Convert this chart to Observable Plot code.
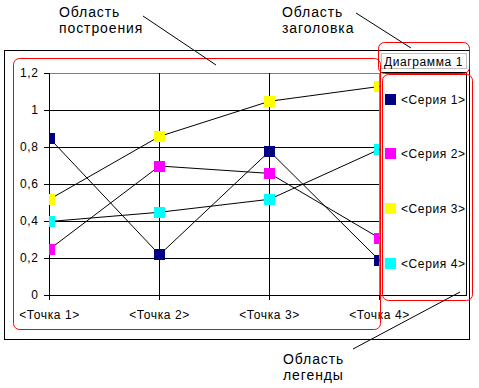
<!DOCTYPE html>
<html><head><meta charset="utf-8">
<script src="https://cdn.jsdelivr.net/npm/d3@7"></script>
<script src="https://cdn.jsdelivr.net/npm/@observablehq/plot@0.6"></script>
<style>
body{margin:0;background:#fff;}
#wrap{position:relative;width:479px;height:388px;background:#fff;font-family:"Liberation Sans",Arial,sans-serif;}
#wrap svg{position:absolute;left:0;top:0;}
</style></head><body><div id="wrap"></div>
<script>
const categories = ["<Точка 1>", "<Точка 2>", "<Точка 3>", "<Точка 4>"];
const seriesNames = ["<Серия 1>", "<Серия 2>", "<Серия 3>", "<Серия 4>"];
const seriesColors = ["#000080", "#ff00ff", "#ffff00", "#00ffff"];
const serie1 = [0.85, 0.22, 0.78, 0.19];
const serie2 = [0.25, 0.70, 0.66, 0.31];
const serie3 = [0.52, 0.86, 1.05, 1.13];
const serie4 = [0.40, 0.45, 0.52, 0.79];
const yTicks = [0, 0.2, 0.4, 0.6, 0.8, 1, 1.2];
const chartTitle = "Диаграмма 1";
const annotationPlot = ["Область", "построения"];
const annotationTitle = ["Область", "заголовка"];
const annotationLegend = ["Область", "легенды"];

const allSeries = [serie1, serie2, serie3, serie4];
const data = [];
allSeries.forEach((vals, i) => vals.forEach((v, j) => data.push({series: seriesNames[i], cat: categories[j], value: v})));

const chart = Plot.plot({
  width: 479, height: 388,
  marginLeft: 49, marginRight: 100, marginTop: 73, marginBottom: 93,
  style: {background: "white", fontFamily: '"Liberation Sans", Arial, sans-serif', fontSize: "12px", color: "black", letterSpacing: "0.6px", overflow: "visible"},
  x: {type: "point", domain: categories, padding: 0},
  y: {domain: [0, 1.2]},
  color: {domain: seriesNames, range: seriesColors},
  marks: [
    Plot.ruleY(yTicks.filter(d => d > 0 && d < 1.2), {stroke: "black"}),
    Plot.ruleY([1.2], {stroke: "#808080"}),
    Plot.ruleX(categories.slice(0, 3), {stroke: "black"}),
    Plot.ruleX(categories.slice(3), {stroke: "#808080"}),
    Plot.ruleY([0], {stroke: "black"}),
    Plot.axisY({ticks: yTicks, tickSize: 5, tickPadding: 6, tickFormat: d => String(d).replace(".", ","), label: null, stroke: "black", fill: "black"}),
    Plot.axisX({tickSize: 5, tickPadding: 10, label: null, stroke: "black", fill: "black"}),
    Plot.line(data, {x: "cat", y: "value", z: "series", stroke: "black", strokeWidth: 1}),
    Plot.dot(data, {x: "cat", y: "value", fill: "series", symbol: "square", r: 11 / Math.sqrt(Math.PI), clip: true, shapeRendering: "crispEdges"})
  ]
});
document.getElementById("wrap").appendChild(chart);

const svg = d3.select("#wrap").append("svg").attr("width", 479).attr("height", 388).style("pointer-events", "none");
const font = '"Liberation Sans", Arial, sans-serif';

// outer chart area frame
svg.append("rect").attr("x", 4.5).attr("y", 50.5).attr("width", 465).attr("height", 289).attr("fill", "none").attr("stroke", "black");

// title box
svg.append("rect").attr("x", 381.5).attr("y", 53.5).attr("width", 85).attr("height", 15).attr("fill", "white").attr("stroke", "#c0c0c0");
svg.append("text").attr("x", 384).attr("y", 66).attr("font-family", font).attr("font-size", 12).attr("letter-spacing", "0.6px").text(chartTitle);

// legend box
svg.append("rect").attr("x", 380.5).attr("y", 72.5).attr("width", 86).attr("height", 223).attr("fill", "white").attr("stroke", "black");
svg.append("line").attr("x1", 469.5).attr("x2", 469.5).attr("y1", 72).attr("y2", 300).attr("stroke", "black");
seriesNames.forEach((name, i) => {
  const cy = 99 + i * 54.7;
  svg.append("rect").attr("x", 385).attr("y", Math.round(cy - 5.5)).attr("width", 11).attr("height", 11).attr("fill", seriesColors[i]);
  svg.append("text").attr("x", 401).attr("y", Math.round(cy + 4.5)).attr("font-family", font).attr("font-size", 12).attr("letter-spacing", "0.6px").text(name);
});

// red highlight rectangles
const red = [[13.5, 58.5, 367, 271], [378.5, 42.5, 91, 31], [382.5, 74.5, 90, 226]];
red.forEach(([x, y, w, h]) => svg.append("rect").attr("x", x).attr("y", y).attr("width", w).attr("height", h).attr("rx", 6).attr("fill", "none").attr("stroke", "#ff0000"));

// annotations
function ann(lines, x, y) {
  lines.forEach((t, i) => svg.append("text").attr("x", x).attr("y", y + i * 16.5).attr("font-family", font).attr("font-size", 14).attr("letter-spacing", "0.9px").text(t));
}
ann(annotationPlot, 59, 16.5);
ann(annotationTitle, 282, 16.5);
ann(annotationLegend, 283, 363.5);
const leaders = [[143, 16, 216, 65], [356, 13, 411, 48], [353, 349, 460, 292]];
leaders.forEach(([x1, y1, x2, y2]) => svg.append("line").attr("x1", x1).attr("y1", y1).attr("x2", x2).attr("y2", y2).attr("stroke", "black"));
</script></body></html>
